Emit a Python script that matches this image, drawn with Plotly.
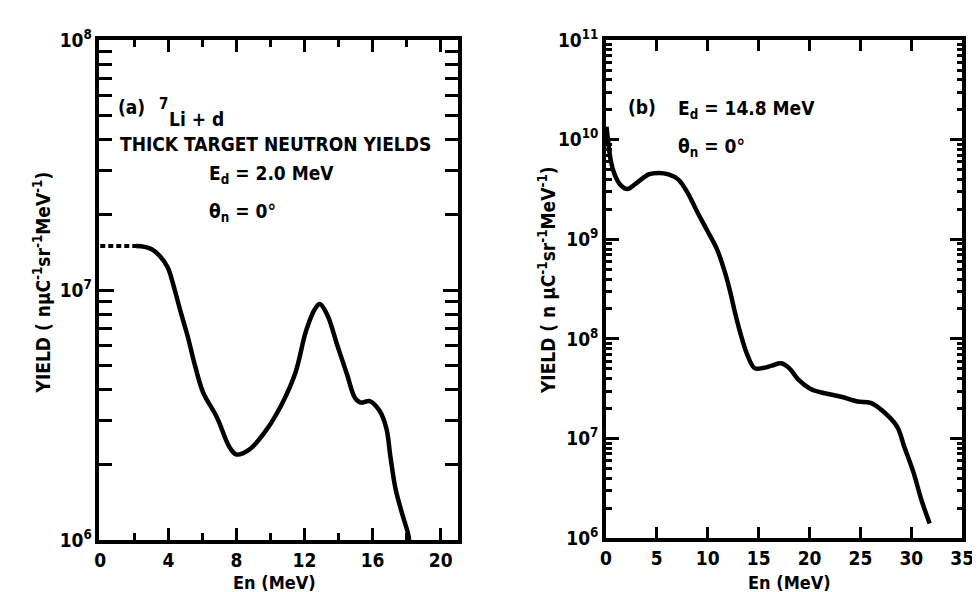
import plotly.graph_objects as go

# ---------------- data ----------------
# panel (a): 7Li + d, Ed = 2.0 MeV
a_dash_en = [0.0, 2.1]
a_dash_y = [1.5e7, 1.5e7]
a_en = [2.1, 2.6, 3.0, 3.5, 3.97, 4.26, 4.72, 5.12, 5.58, 6.04, 6.85, 7.6, 8.0, 8.75,
        9.73, 10.65, 11.46, 12.09, 12.61, 12.9, 13.36, 13.93, 14.5, 14.97, 15.3, 15.83,
        16.4, 16.81, 17.05, 17.35, 17.7, 18.07, 18.15]
a_y = [1.5e7, 1.49e7, 1.46e7, 1.37e7, 1.23e7, 1.07e7, 8.2e6, 6.6e6, 4.95e6, 3.9e6,
       3.1e6, 2.35e6, 2.2e6, 2.3e6, 2.74e6, 3.48e6, 4.66e6, 6.87e6, 8.4e6, 8.8e6, 7.9e6,
       6.0e6, 4.6e6, 3.7e6, 3.55e6, 3.6e6, 3.3e6, 2.8e6, 2.15e6, 1.6e6, 1.3e6,
       1.07e6, 1.0e6]

# panel (b): Ed = 14.8 MeV
b_en = [0.05, 0.2, 0.5, 0.85, 1.45, 2.1, 2.9, 4.2, 5.2, 6.15, 7.1, 8.05, 9.0, 10.0,
        10.9, 11.6, 12.2, 12.7, 13.2, 13.85, 14.6, 15.4, 16.3, 17.2, 18.0, 18.9, 20.1,
        21.5, 23.1, 24.7, 26.0, 27.3, 28.6, 29.3, 30.2, 31.0, 31.8]
b_y = [1.35e10, 1.0e10, 6.0e9, 4.5e9, 3.5e9, 3.2e9, 3.6e9, 4.5e9, 4.65e9, 4.5e9,
       4.0e9, 2.9e9, 1.86e9, 1.2e9, 8.0e8, 5.0e8, 3.0e8, 1.8e8, 1.15e8, 7.1e7, 5.1e7,
       5.1e7, 5.4e7, 5.7e7, 5.1e7, 3.9e7, 3.15e7, 2.85e7, 2.63e7, 2.36e7, 2.28e7,
       1.85e7, 1.32e7, 8.3e6, 4.6e6, 2.4e6, 1.4e6]

a_xticks = [0, 4, 8, 12, 16, 20]
a_xminor = [2, 6, 10, 14, 18]
b_xticks = [0, 5, 10, 15, 20, 25, 30, 35]
a_decades = [6, 7, 8]
b_decades = [6, 7, 8, 9, 10, 11]

# ---------------- figure ----------------
W, H = 980, 592
FONT = "DejaVu Sans Condensed, DejaVu Sans, sans-serif"
BLACK = "#000000"

def px(x):
    return x / W

def py(y):
    return 1 - y / H

fig = go.Figure()
line = dict(color=BLACK, width=4.5)
fig.add_trace(go.Scatter(x=a_dash_en, y=a_dash_y, mode="lines",
                         line=dict(color=BLACK, width=4, dash="5px,3px"),
                         xaxis="x", yaxis="y", showlegend=False))
fig.add_trace(go.Scatter(x=a_en, y=a_y, mode="lines",
                         line=dict(line, shape="spline", smoothing=1.0),
                         xaxis="x", yaxis="y", showlegend=False))
fig.add_trace(go.Scatter(x=b_en, y=b_y, mode="lines",
                         line=dict(line, shape="spline", smoothing=1.0),
                         xaxis="x2", yaxis="y2", showlegend=False))

tickfont = dict(family=FONT, size=19, color=BLACK, weight="bold")

def minor_log(decs):
    vals = []
    for d in decs[:-1]:
        for m in range(2, 10):
            vals.append(m * 10 ** d)
    return vals

common = dict(showline=True, linecolor=BLACK, linewidth=3.5, mirror="ticks",
              ticks="inside", tickcolor=BLACK, tickwidth=3, showgrid=False,
              zeroline=False, tickfont=tickfont)

fig.update_layout(
    width=W, height=H,
    margin=dict(l=0, r=0, t=0, b=0),
    paper_bgcolor="white", plot_bgcolor="white",
    xaxis=dict(common, domain=[px(87), px(452)], range=[-0.05, 21], anchor="y",
               tickmode="array", tickvals=a_xticks, ticklen=12,
               minor=dict(tickmode="array", tickvals=a_xminor, ticks="inside",
                          ticklen=7, tickwidth=3, tickcolor=BLACK)),
    yaxis=dict(common, domain=[py(541), py(20)], type="log", range=[6, 8], anchor="x",
               tickmode="array", tickvals=[10 ** d for d in a_decades],
               ticktext=["10<sup>%d</sup>" % d for d in a_decades], ticklen=15,
               minor=dict(tickmode="array", tickvals=minor_log(a_decades), ticks="inside",
                          ticklen=13, tickwidth=3, tickcolor=BLACK)),
    xaxis2=dict(common, domain=[px(603), px(966)], range=[0, 35], anchor="y2",
                tickmode="array", tickvals=b_xticks, ticklen=11),
    yaxis2=dict(common, domain=[py(539), py(20)], type="log", range=[6, 11], anchor="x2",
                tickmode="array", tickvals=[10 ** d for d in b_decades],
                ticktext=["10<sup>%d</sup>" % d for d in b_decades], ticklen=13,
                minor=dict(tickmode="array", tickvals=minor_log(b_decades), ticks="inside",
                           ticklen=6, tickwidth=2.5, tickcolor=BLACK)),
)

txt = dict(family=FONT, size=19, color=BLACK, weight="bold")
ann = [
    # panel a
    dict(x=px(104), y=py(90), text="(a)", xanchor="left"),
    dict(x=px(146), y=py(87), text="7", xanchor="left", font=dict(txt, size=15)),
    dict(x=px(156), y=py(102), text="Li + d", xanchor="left"),
    dict(x=px(266), y=py(128), text="THICK TARGET NEUTRON YIELDS", xanchor="center"),
    dict(x=px(197), y=py(160), text="E<sub>d</sub> = 2.0 MeV", xanchor="left"),
    dict(x=px(197), y=py(200), text="θ<sub>n</sub> = 0°", xanchor="left"),
    dict(x=px(29), y=py(272), text="YIELD ( nμC<sup>-1</sup>sr<sup>-1</sup>MeV<sup>-1</sup>)",
         textangle=-90, xanchor="center"),
    dict(x=px(265), y=py(583), text="En (MeV)", xanchor="center", yanchor="top"),
    # panel b
    dict(x=px(623), y=py(90), text="(b)", xanchor="left"),
    dict(x=px(674), y=py(92), text="E<sub>d</sub> = 14.8 MeV", xanchor="left"),
    dict(x=px(674), y=py(132), text="θ<sub>n</sub> = 0°", xanchor="left"),
    dict(x=px(543), y=py(270), text="YIELD ( n μC<sup>-1</sup>sr<sup>-1</sup>MeV<sup>-1</sup>)",
         textangle=-90, xanchor="center"),
    dict(x=px(790), y=py(583), text="En (MeV)", xanchor="center", yanchor="top"),
]
for a in ann:
    a.setdefault("font", txt)
    a.setdefault("yanchor", "middle")
    a.update(xref="paper", yref="paper", showarrow=False)
# x-axis titles: top edge just below the tick labels
for a in ann:
    if a["text"] == "En (MeV)":
        a["y"] = py(572)
        a["font"] = dict(txt, size=18)
fig.update_layout(annotations=ann)

fig.write_html("out.html")
